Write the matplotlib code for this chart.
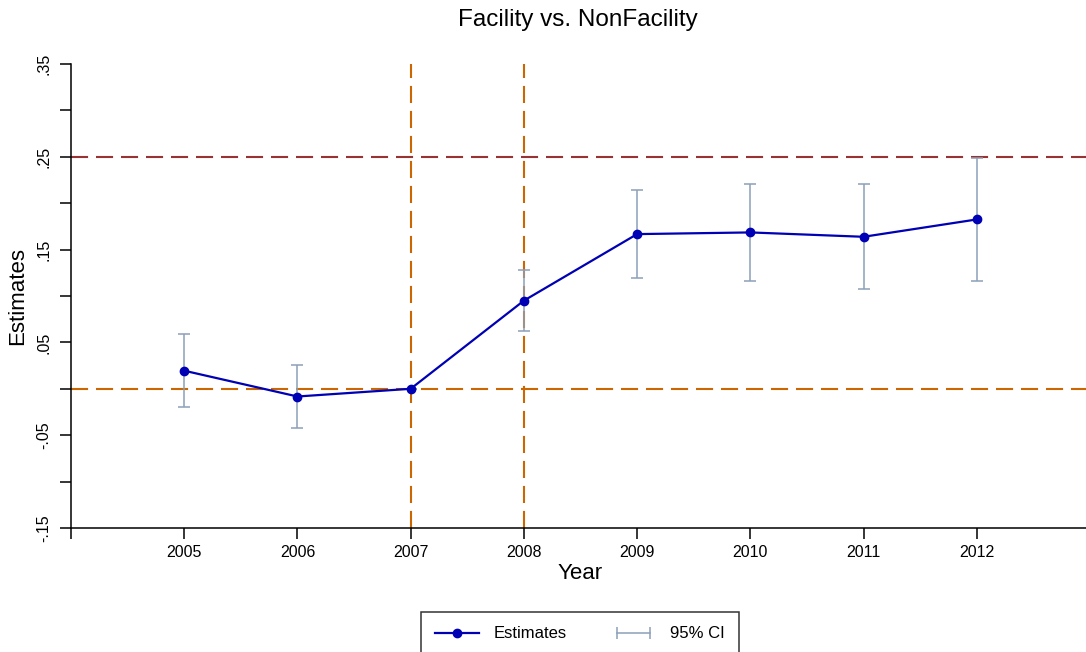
import matplotlib
matplotlib.use("Agg")
import matplotlib.pyplot as plt
from matplotlib.lines import Line2D
from matplotlib.legend_handler import HandlerLine2D

plt.rcParams["font.family"] = ["Liberation Sans", "DejaVu Sans"]

# dados: estimativas por ano e intervalo de confiança de 95%
anos = [2005, 2006, 2007, 2008, 2009, 2010, 2011, 2012]
estimativas = [0.0195, -0.0083, 0.0, 0.095, 0.1667, 0.1685, 0.1638, 0.1825]
ic_inferior = [-0.0197, -0.042, 0.0, 0.062, 0.119, 0.1167, 0.108, 0.116]
ic_superior = [0.059, 0.026, 0.0, 0.128, 0.2137, 0.2205, 0.2205, 0.249]

# linhas de referência
anos_referencia = [2007, 2008]
valor_zero = 0.0
valor_limite = 0.25

# eixos
xticks_anos = [2004, 2005, 2006, 2007, 2008, 2009, 2010, 2011, 2012]
xticks_rotulos = ["", "2005", "2006", "2007", "2008", "2009", "2010", "2011", "2012"]
yticks_vals = [-0.15, -0.10, -0.05, 0.0, 0.05, 0.10, 0.15, 0.20, 0.25, 0.30, 0.35]
yticks_rotulos = ["-.15", "", "-.05", "", ".05", "", ".15", "", ".25", "", ".35"]

cor_linha = "#0000B4"
cor_ic = "#8CA0B8"
cor_laranja = "#CC6600"
cor_vermelho = "#993333"

W, H = 1086, 652
fig = plt.figure(figsize=(W / 100, H / 100), dpi=100)
ax = fig.add_axes([71 / W, (H - 528) / H, (1090 - 71) / W, (528 - 64) / H])

tracejado = (8.2, 3.8)
ax.axhline(valor_limite, color=cor_vermelho, lw=1.5, dashes=tracejado, zorder=1)
ax.axhline(valor_zero, color=cor_laranja, lw=1.5, dashes=tracejado, zorder=1)
for a in anos_referencia:
    ax.axvline(a, color=cor_laranja, lw=1.5, dashes=tracejado, zorder=1)

# intervalo de confiança
erro_baixo = [e - l for e, l in zip(estimativas, ic_inferior)]
erro_cima = [u - e for e, u in zip(estimativas, ic_superior)]
ax.errorbar(anos, estimativas, yerr=[erro_baixo, erro_cima], fmt="none",
            ecolor=cor_ic, elinewidth=1.1, capsize=4, capthick=1.1, zorder=2)

# estimativas
ax.plot(anos, estimativas, color=cor_linha, lw=1.6, marker="o", ms=6, zorder=3)

ax.set_xlim(2004, 2013)
ax.set_ylim(-0.15, 0.35)
ax.set_xticks(xticks_anos)
ax.set_xticklabels(xticks_rotulos, fontsize=11.5)
ax.set_yticks(yticks_vals)
ax.set_yticklabels(yticks_rotulos, fontsize=11.5, rotation=90, va="center")

ax.tick_params(axis="both", length=8, width=1.1, color="black")
ax.tick_params(axis="x", pad=4)
ax.tick_params(axis="y", pad=6)
for lado in ["top", "right"]:
    ax.spines[lado].set_visible(False)
for lado in ["left", "bottom"]:
    ax.spines[lado].set_linewidth(1.1)

ax.set_xlabel("Year", fontsize=16)
ax.xaxis.set_label_coords(0.5, -0.075)
ax.set_ylabel("Estimates", fontsize=16, va="center")
ax.yaxis.set_label_coords(-53 / 1019, 0.5)

fig.text(578 / W, 1 - 20 / H, "Facility vs. NonFacility", fontsize=17.5,
         ha="center", va="center")

# legenda
h_est = Line2D([], [], color=cor_linha, lw=1.6, marker="o", ms=6)
h_ic = Line2D([], [], color=cor_ic, lw=1.1, marker="|", ms=8, mew=1.1)
leg = fig.legend([h_est, h_ic], ["Estimates", "95% CI"], ncol=2,
                 loc="upper center", bbox_to_anchor=(580 / W, 1 - 604 / H),
                 fontsize=12, frameon=True, fancybox=False, borderpad=0.85,
                 handlelength=2.6, handletextpad=0.9, columnspacing=2.7,
                 handler_map={h_ic: HandlerLine2D(numpoints=2)})
leg.get_frame().set_edgecolor("black")
leg.get_frame().set_linewidth(1.1)

plt.savefig("out.png", dpi=100)
